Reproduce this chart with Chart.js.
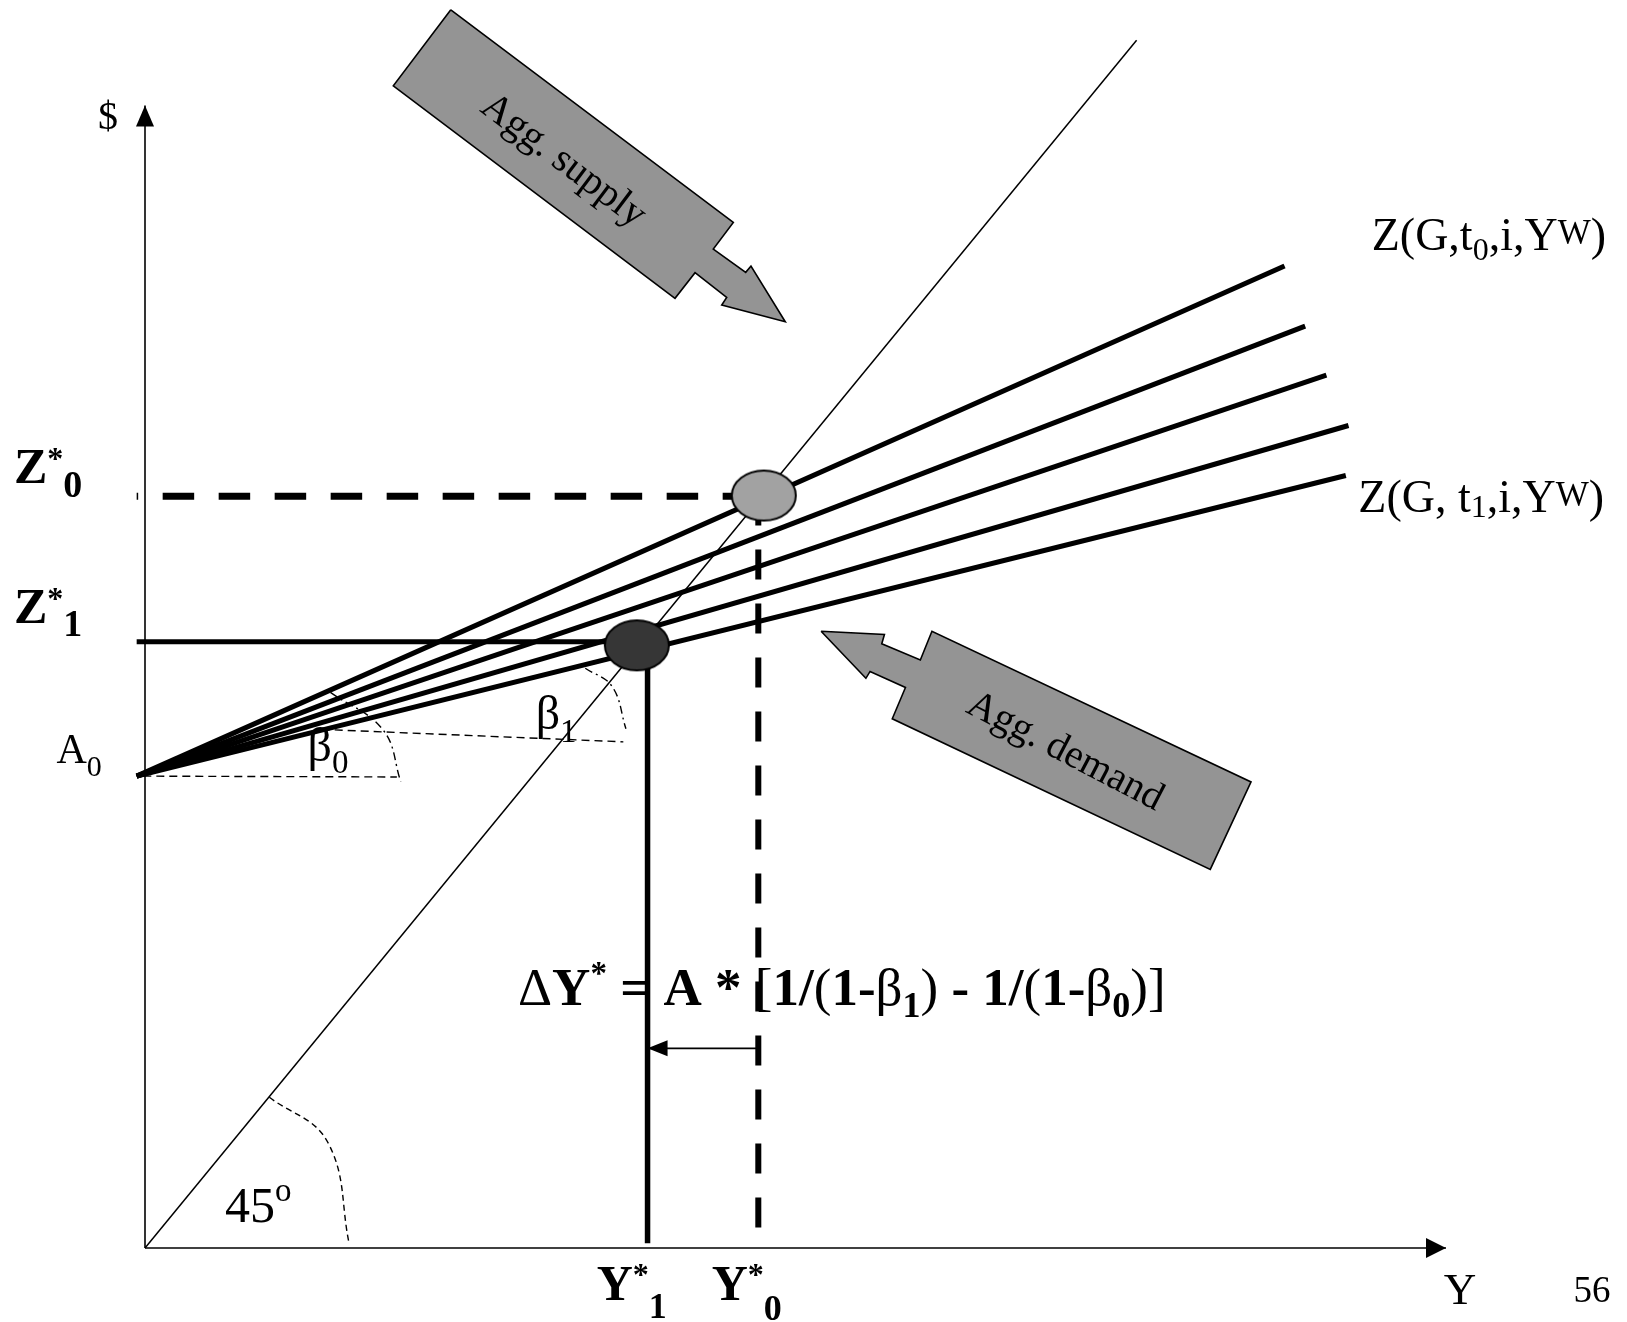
<!DOCTYPE html>
<html>
<head>
<meta charset="utf-8">
<script src="https://cdn.jsdelivr.net/npm/chart.js"></script>
<style>
  body { margin: 0; background: #fff; }
  canvas { display: block; }
</style>
</head>
<body>
<canvas id="myChart" width="1627" height="1322"></canvas>
<script>
// data units are chosen so that the 45 degree line is y = x

// axes and the 45 degree line
const xAxisLine = [[0, 0], [131.2, 0]];
const yAxisLine = [[0, 0], [0, 94.6]];
const line45 = [[0, 0], [100, 100]];

// fan of Z lines, all starting at A0
const fanStart = [-0.84, 39.07];
const fanEnds = [[114.92, 81.3], [117.0, 76.33], [119.14, 72.27], [121.37, 68.1], [121.1, 63.96]];

// equilibria (light = old, dark = new)
const equilibria = [[62.4, 62.3], [49.6, 49.9]];

const z0Dashed = [[-0.84, 62.25], [62.4, 62.25]];
const y0Dashed = [[61.85, 62.3], [61.85, 0.4]];
const z1Line = [[-0.84, 50.19], [49.6, 50.19]];
const y1Line = [[50.68, 49.9], [50.68, 0.4]];
const deltaArrow = [[61.85, 16.53], [50.68, 16.53]];

// angle markers
const beta0Base = [[-0.17, 39.07], [25.4, 39.0]];
const beta0Arc = [[18.7, 46.0], [24.0, 42.9], [25.8, 38.6]];
const beta1Base = [[17.82, 42.94], [48.24, 41.91]];
const beta1Arc = [[44.4, 48.0], [47.1, 46.5], [48.5, 43.0]];
const arc45 = [[12.54, 12.48], [18.4, 8.8], [20.61, 0.28]];

// block arrows
const supplyArrow = [[30.84, 102.52], [25.04, 96.23], [53.45, 78.63], [55.47, 80.75], [58.66, 78.71],
  [58.16, 78.08], [64.57, 76.69], [61.11, 81.3], [60.58, 80.78], [57.31, 82.71], [59.33, 84.92], [30.84, 102.52]];
const demandArrow = [[68.18, 51.06], [74.57, 50.79], [74.3, 50.03], [78.19, 48.69], [79.36, 51.06],
  [111.54, 38.59], [107.43, 31.35], [75.36, 43.82], [76.69, 46.41], [73.12, 47.74], [72.7, 47.17], [68.18, 51.06]];

// text: [text, size, bold, baseline shift]
const labels = [
  { at: [-3.73, 92.65], align: 'center', runs: [['$', 40, false, 0]] },
  { at: [132.61, -4.64], align: 'center', runs: [['Y', 45, false, 0]] },
  { at: [145.93, -4.47], align: 'center', runs: [['56', 37, false, 0]] },
  { at: [-13.21, 63.36], runs: [['Z', 50, true, 0], ['*', 32, true, -14], ['0', 38, true, 14]] },
  { at: [-13.21, 51.72], runs: [['Z', 50, true, 0], ['*', 32, true, -14], ['1', 38, true, 13]] },
  { at: [-8.93, 40.12], runs: [['A', 42, false, 0], ['0', 30, false, 13]] },
  { at: [16.4, 40.32], runs: [['β', 48, false, 0], ['0', 33, false, 12]] },
  { at: [39.4, 42.97], runs: [['β', 48, false, 0], ['1', 33, false, 13]] },
  { at: [8.07, 2.19], runs: [['45', 50, false, 0], ['o', 33, false, -21]] },
  { at: [45.55, -4.31], runs: [['Y', 50, true, 0], ['*', 32, true, -15], ['1', 36, true, 18]] },
  { at: [57.15, -4.31], runs: [['Y', 50, true, 0], ['*', 32, true, -15], ['0', 36, true, 20]] },
  { at: [123.71, 82.63], runs: [['Z(G,t', 46, false, 0], ['0', 32, false, 10], [',i,Y', 46, false, 0], ['W', 35, false, -6], [')', 46, false, 0]] },
  { at: [122.36, 60.96], runs: [['Z(G, t', 46, false, 0], ['1', 32, false, 5], [',i,Y', 46, false, 0], ['W', 35, false, -6], [')', 46, false, 0]] },
  { at: [37.62, 20.12], runs: [['Δ', 53, false, 0], ['Y', 53, true, 0], ['*', 33, true, -21], [' = A * ', 53, true, 0],
    ['[', 53, false, 0], ['1/', 53, true, 0], ['(', 53, false, 0], ['1-', 53, true, 0], ['β', 53, false, 0], ['1', 36, true, 12],
    [')', 53, false, 0], [' - 1/', 53, true, 0], ['(', 53, false, 0], ['1-', 53, true, 0], ['β', 53, false, 0], ['0', 36, true, 12],
    [')]', 53, false, 0]] },
  { at: [42.18, 90.0], align: 'center', rot: 37, middle: true, runs: [['Agg. supply', 40, false, 0]] },
  { at: [92.78, 41.07], align: 'center', rot: 27.5, middle: true, runs: [['Agg. demand', 40, false, 0]] }
];

const serif = '"Liberation Serif", "Times New Roman", serif';
const pts = arr => arr.map(([x, y]) => ({ x, y }));

function ellipseImage(fill) {
  const c = document.createElement('canvas');
  c.width = 70; c.height = 56;
  const g = c.getContext('2d');
  g.beginPath();
  g.ellipse(35, 28, 32, 25, 0, 0, Math.PI * 2);
  g.fillStyle = fill;
  g.fill();
  g.lineWidth = 2;
  g.strokeStyle = '#000';
  g.stroke();
  return c;
}

function line(data, width, extra) {
  return Object.assign({ data: pts(data), borderColor: '#000', borderWidth: width, pointRadius: 0, fill: false, clip: false, order: 2 }, extra || {});
}

const datasets = [
  { data: pts(equilibria), showLine: false, pointRadius: 30, pointStyle: [ellipseImage('#a2a2a2'), ellipseImage('#363636')], clip: false, order: 0 },
  line(xAxisLine, 1.6, { arrowHead: [20, 10] }),
  line(yAxisLine, 1.6, { arrowHead: [21, 9] }),
  line(line45, 1.5),
  ...fanEnds.map(e => line([fanStart, e], 5)),
  line(z0Dashed, 7, { borderDash: [31.5, 24.5], borderDashOffset: 30, borderCapStyle: 'butt' }),
  line(y0Dashed, 6, { borderDash: [30, 24], borderCapStyle: 'butt' }),
  line(z1Line, 5),
  line(y1Line, 5.5),
  line(deltaArrow, 1.6, { arrowHead: [20, 8] }),
  line(beta0Base, 1.4, { borderDash: [8, 5] }),
  line(beta0Arc, 1.4, { borderDash: [8, 4, 2, 4], tension: 0.4 }),
  line(beta1Base, 1.4, { borderDash: [8, 5] }),
  line(beta1Arc, 1.4, { borderDash: [8, 4, 2, 4], tension: 0.4 }),
  line(arc45, 1.4, { borderDash: [6, 4], tension: 0.4 }),
  line(supplyArrow, 1.6, { fill: 'shape', backgroundColor: '#949494', order: 5 }),
  line(demandArrow, 1.6, { fill: 'shape', backgroundColor: '#949494', order: 5 })
];

function drawRuns(ctx, runs, align) {
  const fontOf = r => (r[2] ? 'bold ' : '') + r[1] + 'px ' + serif;
  let total = 0;
  runs.forEach(r => { ctx.font = fontOf(r); total += ctx.measureText(r[0]).width; });
  let x = align === 'center' ? -total / 2 : 0;
  runs.forEach(r => {
    ctx.font = fontOf(r);
    ctx.fillText(r[0], x, r[3]);
    x += ctx.measureText(r[0]).width;
  });
}

const drawExtras = {
  id: 'drawExtras',
  afterDatasetsDraw(chart) {
    const ctx = chart.ctx;
    const xs = chart.scales.x, ys = chart.scales.y;
    chart.data.datasets.forEach((ds, i) => {
      if (!ds.arrowHead) return;
      const p = chart.getDatasetMeta(i).data;
      const a = p[p.length - 2], b = p[p.length - 1];
      const ang = Math.atan2(b.y - a.y, b.x - a.x);
      const [len, half] = ds.arrowHead;
      ctx.save();
      ctx.translate(b.x, b.y);
      ctx.rotate(ang);
      ctx.beginPath();
      ctx.moveTo(0, 0);
      ctx.lineTo(-len, -half);
      ctx.lineTo(-len, half);
      ctx.closePath();
      ctx.fillStyle = '#000';
      ctx.fill();
      ctx.restore();
    });
    labels.forEach(lb => {
      ctx.save();
      ctx.translate(xs.getPixelForValue(lb.at[0]), ys.getPixelForValue(lb.at[1]));
      if (lb.rot) ctx.rotate(lb.rot * Math.PI / 180);
      ctx.fillStyle = '#000';
      ctx.textAlign = 'left';
      ctx.textBaseline = lb.middle ? 'middle' : 'alphabetic';
      drawRuns(ctx, lb.runs, lb.align);
      ctx.restore();
    });
  }
};

const ctx = document.getElementById('myChart').getContext('2d');
const myChart = new Chart(ctx, {
  type: 'line',
  data: { datasets: datasets },
  options: {
    responsive: false,
    animation: false,
    layout: { autoPadding: false, padding: { left: 145, right: 183, top: 4, bottom: 74 } },
    plugins: { legend: { display: false }, tooltip: { enabled: false } },
    scales: {
      x: { type: 'linear', min: 0, max: 131, display: false },
      y: { type: 'linear', min: 0, max: 103, display: false }
    }
  },
  plugins: [drawExtras]
});
</script>
</body>
</html>
